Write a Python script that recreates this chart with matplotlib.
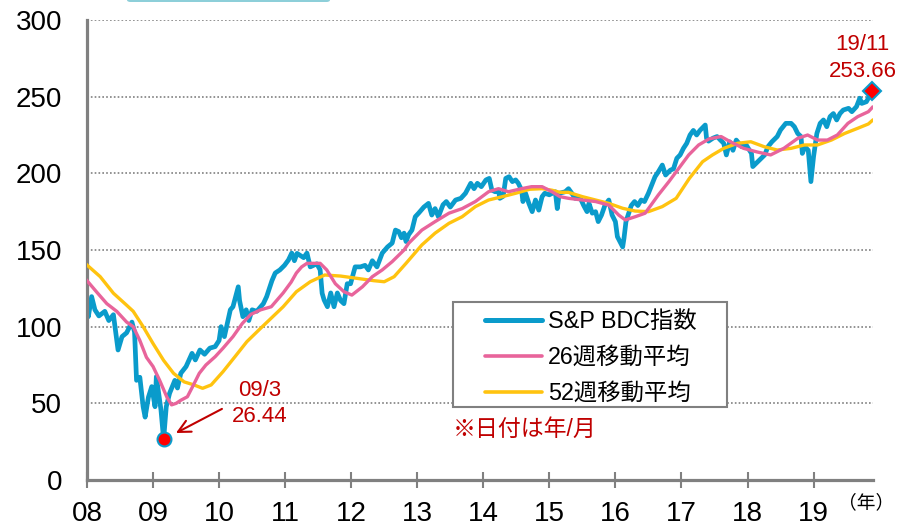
import numpy as np
import matplotlib
matplotlib.use('Agg')
import matplotlib.pyplot as plt
from matplotlib.patches import Rectangle, FancyBboxPatch

plt.rcParams['font.family'] = ['Liberation Sans', 'Noto Sans CJK JP']

# S&P BDC index (weekly close, sampled)
idx_t = [2008.00, 2008.02, 2008.07, 2008.12, 2008.18, 2008.27, 2008.33, 2008.40, 2008.47, 2008.53,
         2008.60, 2008.68, 2008.72, 2008.75, 2008.80, 2008.85, 2008.88, 2008.93, 2008.98, 2009.03,
         2009.05, 2009.12, 2009.16, 2009.20, 2009.25, 2009.33, 2009.37, 2009.42, 2009.50, 2009.59,
         2009.64, 2009.71, 2009.78, 2009.86, 2009.94, 2010.00, 2010.03, 2010.08, 2010.17, 2010.21,
         2010.29, 2010.31, 2010.36, 2010.41, 2010.45, 2010.50, 2010.57, 2010.67, 2010.72, 2010.80,
         2010.85, 2010.92, 2010.99, 2011.05, 2011.10, 2011.14, 2011.18, 2011.28, 2011.33, 2011.38,
         2011.48, 2011.53, 2011.56, 2011.59, 2011.64, 2011.69, 2011.74, 2011.79, 2011.84, 2011.89,
         2011.94, 2011.99, 2012.06, 2012.14, 2012.21, 2012.26, 2012.32, 2012.39, 2012.47, 2012.55,
         2012.62, 2012.67, 2012.72, 2012.76, 2012.80, 2012.83, 2012.87, 2012.92, 2012.97, 2013.02,
         2013.10, 2013.17, 2013.22, 2013.27, 2013.32, 2013.39, 2013.44, 2013.50, 2013.58, 2013.66,
         2013.73, 2013.81, 2013.86, 2013.91, 2013.97, 2014.04, 2014.09, 2014.13, 2014.18, 2014.23,
         2014.25, 2014.30, 2014.34, 2014.39, 2014.44, 2014.49, 2014.53, 2014.58, 2014.60, 2014.64,
         2014.69, 2014.74, 2014.79, 2014.84, 2014.89, 2014.93, 2015.00, 2015.09, 2015.12, 2015.15,
         2015.24, 2015.29, 2015.34, 2015.39, 2015.47, 2015.52, 2015.57, 2015.60, 2015.65, 2015.70,
         2015.74, 2015.79, 2015.84, 2015.90, 2015.95, 2016.00, 2016.03, 2016.11, 2016.13, 2016.16,
         2016.24, 2016.29, 2016.34, 2016.39, 2016.44, 2016.50, 2016.55, 2016.60, 2016.65, 2016.71,
         2016.76, 2016.83, 2016.88, 2016.93, 2016.98, 2017.03, 2017.08, 2017.13, 2017.18, 2017.23,
         2017.28, 2017.36, 2017.38, 2017.41, 2017.48, 2017.54, 2017.59, 2017.64, 2017.68, 2017.73,
         2017.78, 2017.83, 2017.91, 2017.98, 2018.06, 2018.08, 2018.13, 2018.21, 2018.26, 2018.31,
         2018.37, 2018.45, 2018.50, 2018.58, 2018.66, 2018.71, 2018.76, 2018.81, 2018.83, 2018.87,
         2018.92, 2018.96, 2019.00, 2019.05, 2019.10, 2019.15, 2019.20, 2019.25, 2019.30, 2019.35,
         2019.40, 2019.45, 2019.53, 2019.58, 2019.65, 2019.70, 2019.73, 2019.80, 2019.89]
idx_v = [113, 106.5, 119.6, 111, 107, 110, 104, 107.8, 84.8, 93.5,
         96, 103, 96.5, 65, 67, 47.8, 41, 54, 60.9, 47.8,
         67.4, 45.7, 26.44, 47.8, 56.5, 65, 60, 69.6, 74, 82.6,
         78.3, 84.8, 82, 86, 87, 91, 100, 93.5, 111, 113,
         126, 117, 106.5, 111, 104, 111, 110, 115, 119.6, 130,
         135, 137, 140, 143.5, 148, 143, 147.8, 145, 148, 139,
         141, 137, 121.8, 117.4, 113, 122, 113, 122, 117, 115,
         128, 128, 139, 139, 140, 137, 143, 139, 148, 152,
         154.5, 163, 162, 158, 161, 155.5, 160, 163, 171.7, 174,
         178, 180.4, 172.8, 177, 171.7, 179.5, 181.6, 178, 182.6, 183.7,
         187, 193.5, 190, 193.5, 191.3, 195.7, 196.7, 189, 188, 189,
         183.7, 185, 196.7, 197.8, 194.6, 195.7, 193.5, 189, 181.6, 187,
         180.4, 175, 182.6, 176, 184.8, 187, 186, 188, 177, 187,
         188, 190, 187, 183.7, 183.7, 179, 175, 180.4, 174, 175,
         168.5, 172.8, 179, 182.6, 172.8, 168.5, 158.7, 152, 157.6, 168.5,
         179, 181.6, 179, 182.6, 181.6, 187, 192.4, 197.8, 201, 205.4,
         198.9, 202, 203, 209.8, 212, 216.3, 219.6, 225, 228, 225,
         228, 231.5, 222.8, 221, 223, 224, 221.7, 219.6, 212, 220.6,
         215, 221.7, 217.4, 218.5, 213, 204.4, 206.5, 209.8, 212, 217.4,
         220.6, 224, 228.3, 232.6, 232.6, 230.4, 226, 224, 213, 217.4,
         215, 194.6, 210.9, 226, 232.6, 234.8, 230.4, 237, 239, 234.8,
         239, 241.3, 242.4, 240.2, 243.5, 249, 245.6, 246.7, 253.66]

# 26-week moving average
ma26_t = [2008.00, 2008.15, 2008.30, 2008.45, 2008.60, 2008.70, 2008.80, 2008.90, 2009.00, 2009.10,
          2009.21, 2009.28, 2009.35, 2009.42, 2009.52, 2009.60, 2009.70, 2009.80, 2009.94, 2010.06,
          2010.21, 2010.35, 2010.48, 2010.63, 2010.79, 2010.97, 2011.09, 2011.17, 2011.25, 2011.33,
          2011.53, 2011.63, 2011.76, 2011.89, 2012.01, 2012.17, 2012.32, 2012.47, 2012.62, 2012.80,
          2012.87, 2013.07, 2013.27, 2013.48, 2013.68, 2013.88, 2014.08, 2014.23, 2014.38, 2014.58,
          2014.73, 2014.89, 2015.04, 2015.16, 2015.29, 2015.50, 2015.70, 2015.90, 2016.05, 2016.15,
          2016.30, 2016.45, 2016.65, 2016.81, 2016.96, 2017.11, 2017.26, 2017.42, 2017.60, 2017.74,
          2017.94, 2018.14, 2018.35, 2018.55, 2018.76, 2018.91, 2019.06, 2019.21, 2019.36, 2019.52,
          2019.67, 2019.83, 2019.89]
ma26_v = [130, 122.4, 115, 110, 103, 100, 91, 80, 74, 65,
          54, 49, 50, 52, 54.3, 61, 69.6, 75, 80.4, 86,
          93.5, 102, 108, 111, 113, 122, 129, 135, 139, 141.3,
          141.3, 137, 128, 122.8, 120.6, 126, 132.6, 137, 142.4, 150,
          154.4, 163, 168.5, 174, 177, 181.6, 188, 190, 188, 190,
          191.3, 191.3, 188, 184.8, 183.7, 182.6, 181.6, 179.3, 172.8, 169.6,
          171.7, 174, 185.9, 194.6, 203.3, 212, 218.5, 222.5, 224, 220.6,
          216.3, 214, 212, 216.3, 222.8, 225, 221.7, 221.7, 225, 232.6,
          237, 240.2, 243]

# 52-week moving average
ma52_t = [2008.00, 2008.20, 2008.40, 2008.60, 2008.70, 2008.85, 2009.00, 2009.16, 2009.31, 2009.47,
          2009.62, 2009.75, 2009.88, 2010.06, 2010.24, 2010.42, 2010.63, 2010.80, 2010.97, 2011.17,
          2011.38, 2011.60, 2011.84, 2012.09, 2012.34, 2012.50, 2012.65, 2012.83, 2013.07, 2013.27,
          2013.48, 2013.68, 2013.88, 2014.08, 2014.29, 2014.49, 2014.70, 2014.89, 2015.04, 2015.16,
          2015.29, 2015.50, 2015.70, 2015.90, 2016.11, 2016.30, 2016.50, 2016.71, 2016.92, 2017.12,
          2017.32, 2017.47, 2017.64, 2017.85, 2018.05, 2018.25, 2018.45, 2018.66, 2018.86, 2019.06,
          2019.27, 2019.47, 2019.67, 2019.83, 2019.89]
ma52_v = [140.2, 132.6, 121.8, 114, 110, 100, 89, 78, 69.6, 64,
          62, 59.8, 62, 70.7, 80.4, 90.2, 99, 106, 113, 122.8,
          129.3, 133.7, 133, 131.5, 130, 129.3, 132.6, 141.3, 153.3, 161,
          167.4, 171.7, 178.3, 182.6, 184.8, 187, 189.6, 190, 189, 187.6,
          187.6, 184.8, 182.6, 180.4, 177.2, 175.4, 175, 178.3, 183.7, 196.7,
          207.6, 212, 216.3, 219.6, 220.6, 217.4, 215.2, 216.3, 218.5, 218.5,
          221.7, 226, 229.4, 232.2, 234.5]

year_ticks = list(range(2008, 2020))
year_labels = ['%02d' % (y % 100) for y in year_ticks]
y_ticks = [0, 50, 100, 150, 200, 250, 300]

BLUE = '#0A9BCB'
PINK = '#E8649B'
YELLOW = '#FFC30F'
GRAY = '#808080'
DARKRED = '#C00000'

W, H = 898, 529
fig = plt.figure(figsize=(W / 100, H / 100), dpi=100)
ax = fig.add_axes([87 / W, 49 / H, 786 / W, 460 / H])

ax.plot(ma52_t, ma52_v, color=YELLOW, lw=2.4, solid_joinstyle='round', zorder=3)
ax.plot(ma26_t, ma26_v, color=PINK, lw=2.4, solid_joinstyle='round', zorder=3)
ax.plot(idx_t, idx_v, color=BLUE, lw=3.4, solid_joinstyle='round', zorder=2)

ax.set_xlim(2008, 2019.9)
ax.set_ylim(0, 300)
ax.set_xticks(year_ticks)
ax.set_xticklabels(year_labels)
ax.set_yticks(y_ticks)
ax.tick_params(axis='x', direction='inout', length=12, width=1.5, color=GRAY,
               labelsize=20, pad=9)
ax.tick_params(axis='y', length=0, labelsize=20, pad=18)

for side in ['top', 'right']:
    ax.spines[side].set_visible(False)
for side in ['left', 'bottom']:
    ax.spines[side].set_color(GRAY)
    ax.spines[side].set_linewidth(2.3)

ax.yaxis.grid(True, color=GRAY, lw=1.2, linestyle=(0, (1, 1.3)))
ax.set_axisbelow(True)

# low point and latest value
i_low = int(np.argmin(idx_v))
low_t, low_v = idx_t[i_low], idx_v[i_low]
end_t, end_v = idx_t[-1], idx_v[-1]

ax.plot([low_t], [low_v], 'o', ms=10, mfc='#FF0000', mec=BLUE, mew=1.5, zorder=5,
        clip_on=False)
ax.plot([end_t], [end_v], 'D', ms=9, mfc='#FF0000', mec=BLUE, mew=1.5, zorder=5,
        clip_on=False)

ax.annotate('', xy=(low_t, low_v), xytext=(42, 22), textcoords='offset points',
            arrowprops=dict(arrowstyle='->', color=DARKRED, lw=1.5,
                            shrinkA=0, shrinkB=10, mutation_scale=22))
ax.annotate('09/3\n%.2f' % low_v, xy=(low_t, low_v), xytext=(69, 26),
            textcoords='offset points', ha='center', va='center',
            fontsize=16, color=DARKRED, linespacing=1.35)
ax.annotate('19/11\n%.2f' % end_v, xy=(end_t, end_v), xytext=(-7, 24),
            textcoords='offset points', ha='center', va='center',
            fontsize=16, color=DARKRED, linespacing=1.4, annotation_clip=False)

ax.text(2013.545, 33, '※日付は年/月', fontsize=16.5, color=DARKRED, va='center', ha='left')

fig.text(866 / W, 1 - 503 / H, '（年）', fontsize=13.5, ha='center', va='center')

# legend box
fig.add_artist(Rectangle((453 / W, 1 - 407 / H), 274 / W, 105 / H,
                         transform=fig.transFigure, facecolor='white',
                         edgecolor=GRAY, lw=1.5, zorder=4))
handles = [plt.Line2D([], [], color=BLUE, lw=3.6, solid_capstyle='round'),
           plt.Line2D([], [], color=PINK, lw=2.6, solid_capstyle='round'),
           plt.Line2D([], [], color=YELLOW, lw=2.6, solid_capstyle='round')]
labels = ['S&P BDC指数', '26週移動平均', '52週移動平均']
leg = fig.legend(handles, labels, loc='upper left', bbox_to_anchor=(485 / W, 1 - 310 / H),
                 frameon=False, fontsize=16.8, handlelength=2.45, handletextpad=0.25,
                 borderpad=0, borderaxespad=0, labelspacing=0.55)
leg.set_zorder(5)

# edge of the header panel above the chart
fig.add_artist(FancyBboxPatch((127 / W, 1 - 2 / H), 203 / W, 6 / H,
                              boxstyle='round,pad=0,rounding_size=0.004',
                              transform=fig.transFigure, facecolor='#8DCFD9',
                              edgecolor='none', zorder=1, clip_on=False))

fig.savefig('out.png', dpi=100)
